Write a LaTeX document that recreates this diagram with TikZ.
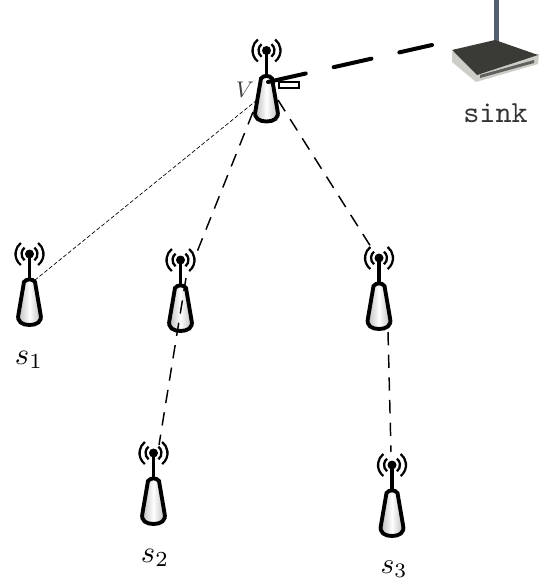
\documentclass[tikz,border=0pt]{standalone}
\usetikzlibrary{positioning}
\tikzset{
  antenna/.pic={
    % waves
    \foreach \r in {8,14} {
      \draw [line width=1.7pt] (52:\r) arc (52:-52:\r);
      \draw [line width=1.7pt] (128:\r) arc (128:232:\r);
    }
    \fill (0,0) circle (4.5);
    \draw [line width=2.7pt] (0,0) -- (0,26);
    % body
    \draw [line width=2.9pt,left color=black!30,right color=black!30,middle color=white]
      (-5.5,28) .. controls (-3,24.5) and (3,24.5) .. (5.5,28) -- (11,60)
      .. controls (13,68) and (7,71) .. (0,71) .. controls (-7,71) and (-13,68) .. (-11,60) -- cycle;
  },
  every pic/.style={yscale=-1},
  dashlink/.style={dash pattern={on 10pt off 7pt},line width=1.1pt},
  thinlink/.style={dash pattern={on 3pt off 1.6pt},line width=0.5pt},
  thicklink/.style={dash pattern={on 29pt off 21.5pt},line width=3pt,line cap=round},
  tag/.style={inner sep=0pt}
}
\begin{document}
\begin{tikzpicture}[x=0.75pt,y=0.75pt,yscale=-1,xscale=1]
\useasboundingbox (0,0) rectangle (552,581);

% Antennas
\pic at (266.5,50.5) {antenna};
\pic at (29.5,254) {antenna};
\pic at (180.5,260) {antenna};
\pic at (379,258) {antenna};
\pic at (153.5,453) {antenna};
\pic at (392,465) {antenna};

% Link ends
\coordinate (vs) at (257,100);
\coordinate (s1) at (35,280);
\coordinate (vl) at (253,112);
\coordinate (rl) at (197,252);
\coordinate (rd) at (186,278);
\coordinate (s2) at (159,445);
\coordinate (vr) at (278,100);
\coordinate (rr) at (371,247);
\coordinate (qd) at (388,332);
\coordinate (s3) at (391,452);
\coordinate (vt) at (268,82);
\coordinate (sk) at (432,45);

% Links
\draw [thinlink] (vs) -- (s1);
\draw [dashlink] (vl) -- (rl);
\draw [dashlink] (rd) -- (s2);
\draw [dashlink] (vr) -- (rr);
\draw [dashlink] (qd) -- (s3);
\draw [thicklink] (vt) -- (sk);

% Small box
\draw [line width=0.9pt] (279,82) rectangle (299,88);

% Sink router
\fill [color={rgb, 255:red, 84; green, 96; blue, 112 }] (494,0) rectangle (499,44);
\fill [color={rgb, 255:red, 205; green, 205; blue, 200 }] (452,52) -- (452,62) -- (476,82) -- (538,64) -- (539,54) -- cycle;
\fill [color={rgb, 255:red, 96; green, 96; blue, 94 }] (480,75) -- (534,60) -- (534,63) -- (480,78) -- cycle;
\fill [color={rgb, 255:red, 58; green, 58; blue, 54 }] (452,50) -- (495,40) -- (538,55) -- (477,75) -- cycle;

% Text Node
\node [tag,scale=2.3,color=black!80] (sink) at (495.5,113) {\ttfamily sink};
\node [tag,scale=1.7,color=black!75] (vlab) at (245,90) {$V$};
\node [tag,scale=2.3] (s1lab) at (29,360) {$s_1$};
\node [tag,scale=2.3] (s2lab) at (155,558) {$s_2$};
\node [tag,scale=2.2] (s3lab) at (394,569) {$s_3$};
\end{tikzpicture}
\end{document}
